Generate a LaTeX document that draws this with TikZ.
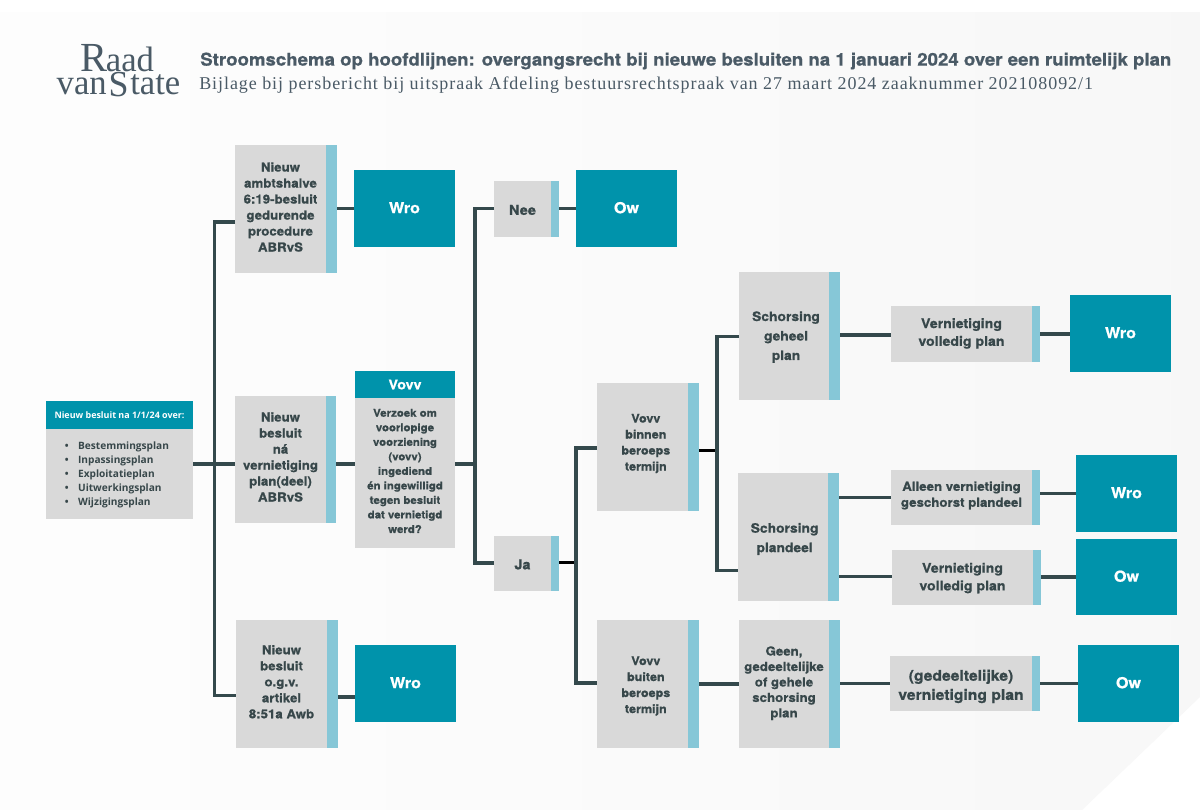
\documentclass[tikz,border=0pt]{standalone}
\usepackage{fontspec}
\setmainfont{Liberation Serif}
\newfontfamily\boxfont[FakeStretch=1.07,FakeBold=0.9]{TeX Gyre Heros}
\newfontfamily\titlefont[FakeStretch=1.07,FakeBold=0.8]{TeX Gyre Heros}
\newfontfamily\listfont{Open Sans}
\newfontfamily\subfont[LetterSpace=5.2]{Liberation Serif}
\newfontfamily\logofont[FakeStretch=0.98]{Liberation Serif}
\usetikzlibrary{calc}
\definecolor{tealc}{HTML}{0093AB}
\definecolor{stripe}{HTML}{86C7D7}
\definecolor{graybox}{HTML}{D9D9D9}
\definecolor{ink}{HTML}{37474A}
\definecolor{wirec}{HTML}{34494C}
\definecolor{titleink}{HTML}{4A5A66}
\tikzset{
  x=0.75pt,y=-0.75pt,
  pbox/.style={fill=graybox,inner sep=0,outer sep=0,anchor=north west},
  ptext/.style={inner sep=0,align=center,font=\boxfont\bfseries\fontsize{9.3}{12}\selectfont,text=ink},
  sbar/.style={fill=stripe,inner sep=0,outer sep=0,anchor=north west},
  outcome/.style={fill=tealc,inner sep=0,outer sep=0,align=center,font=\boxfont\bfseries\fontsize{11.3}{13}\selectfont,text=white,anchor=north west,text height=7pt,text depth=0pt},
  wire/.style={draw=wirec,line width=2.3pt},
  wireb/.style={draw=black,line width=2.3pt},
  fsmall/.style={font=\boxfont\bfseries\fontsize{8.8}{12}\selectfont},
  fgeen/.style={font=\boxfont\bfseries\fontsize{9.3}{11.6}\selectfont},
  fmid/.style={font=\boxfont\bfseries\fontsize{9.9}{13.3}\selectfont},
  flarge/.style={font=\boxfont\bfseries\fontsize{11}{14.4}\selectfont},
  fsch/.style={font=\boxfont\bfseries\fontsize{9.7}{14.6}\selectfont},
  fyn/.style={font=\boxfont\bfseries\fontsize{10.2}{12}\selectfont},
}
% [text style], name, x0, y0, x1 (gray end), x2 (stripe end), y1, text
\newcommand{\stripbox}[8][]{%
  \node[pbox,minimum width=#5*0.75pt-#3*0.75pt,minimum height=#7*0.75pt-#4*0.75pt] (#2) at (#3,#4) {};
  \node[sbar,minimum width=#6*0.75pt-#5*0.75pt,minimum height=#7*0.75pt-#4*0.75pt] (#2s) at (#5,#4) {};
  \node[ptext,#1] (#2t) at (#2.center) {#8};
}
% name, x0,y0,x1,y1,text
\newcommand{\obox}[6]{%
  \node[outcome,minimum width=#4*0.75pt-#2*0.75pt,minimum height=#5*0.75pt-#3*0.75pt] (#1) at (#2,#3) {#6};
}
\newcommand{\bul}[1]{\makebox[10pt][l]{\textbullet}#1}
\begin{document}
\begin{tikzpicture}
\useasboundingbox (0,0) rectangle (1200,810);
% background
\fill[white] (0,0) rectangle (1200,810);
\shade[left color=black!0.6,right color=black!3] (0,12) -- (1200,12) -- (1200,697) -- (1082,810) -- (0,810) -- cycle;

% logo and title
\node[anchor=base,font=\logofont\fontsize{26.5}{32}\selectfont,text=titleink,inner sep=0] (logoa) at (117.5,71.5) {{\fontsize{31}{32}\selectfont R}\kern-1.5pt aad};
\node[anchor=base,font=\logofont\fontsize{26.5}{32}\selectfont,text=titleink,inner sep=0] (logob) at (118.5,94) {van\kern1.5pt\raisebox{-2pt}{\fontsize{27.5}{30}\selectfont S}\kern1.2pt tate};
\node[anchor=west,inner sep=0,text=titleink,font=\titlefont\bfseries\fontsize{13.07}{15}\selectfont] (title) at (200,61) {Stroomschema op hoofdlijnen: overgangsrecht bij nieuwe besluiten na 1 januari 2024 over een ruimtelijk plan};
\node[anchor=west,inner sep=0,text=titleink,font=\subfont\fontsize{13.5}{15}\selectfont] (sub) at (199,85) {Bijlage bij persbericht bij uitspraak Afdeling bestuursrechtspraak van 27 maart 2024 zaaknummer 202108092/1};

% start box
\node[fill=graybox,inner sep=0,outer sep=0,anchor=north west,minimum width=110.25pt,minimum height=67.5pt] (startb) at (46,429) {};
\node[fill=tealc,inner sep=0,outer sep=0,anchor=north west,minimum width=110.25pt,minimum height=21pt,text=white,font=\listfont\bfseries\fontsize{6.7}{8}\selectfont] (starth) at (46,401) {Nieuw besluit na 1/1/24 over:};
\node[anchor=north west,inner sep=0,text=ink,font=\listfont\bfseries\fontsize{7.6}{10.5}\selectfont,align=left] (startl) at (64.5,442) {\bul{Bestemmingsplan}\\\bul{Inpassingsplan}\\\bul{Exploitatieplan}\\\bul{Uitwerkingsplan}\\\bul{Wijzigingsplan}};

% column 1
\stripbox[yshift=1.5pt]{a}{235}{145}{326}{337}{273}{Nieuw\\ambtshalve\\6:19-besluit\\gedurende\\procedure\\ABRvS}
\stripbox[yshift=1.9pt]{b}{235}{396}{326}{336}{523}{Nieuw\\besluit\\ná\\vernietiging\\plan(deel)\\ABRvS}
\stripbox[yshift=1.7pt]{c}{236}{620}{327}{338}{748}{Nieuw\\besluit\\o.g.v.\\artikel\\8:51a Awb}
\obox{wroa}{354}{170}{455}{247}{Wro}
\obox{wroc}{355}{645}{456}{722}{Wro}
% vovv
\node[fill=tealc,inner sep=0,outer sep=0,anchor=north west,minimum width=75pt,minimum height=20.25pt,text=white,font=\boxfont\bfseries\fontsize{10}{12}\selectfont] (vovvh) at (355,371) {Vovv};
\node[pbox,minimum width=75pt,minimum height=112.5pt] (vovv) at (355,398) {};
\node[ptext,yshift=1.5pt,font=\boxfont\bfseries\fontsize{8}{10.9}\selectfont] (vovvt) at (vovv.center) {Verzoek om\\voorlopige\\voorziening\\(vovv)\\ingediend\\én ingewilligd\\tegen besluit\\dat vernietigd\\werd?};
% nee / ja
\stripbox[fyn,yshift=-0.7pt]{nee}{494}{181}{551}{559}{237}{Nee}
\stripbox[fyn,yshift=-0.7pt]{ja}{494}{536}{551}{559}{591}{Ja}
\obox{ow}{576}{170}{677}{247}{Ow}
% column 3
\stripbox[fsmall,xshift=2.5pt,yshift=2.6pt]{bin}{597}{383}{688}{699}{511}{Vovv\\binnen\\beroeps\\termijn}
\stripbox[fsmall,xshift=2.5pt,yshift=-1.5pt]{bui}{597}{620}{688}{699}{748}{Vovv\\buiten\\beroeps\\termijn}
\stripbox[fsch,xshift=1.5pt,yshift=-0.8pt]{geh}{739}{272}{829}{840}{400}{Schorsing\\geheel\\plan}
\stripbox[fsch,xshift=1.2pt,yshift=-1.5pt]{pla}{738}{473}{828}{839}{601}{Schorsing\\plandeel}
\stripbox[fgeen,yshift=0.6pt]{gee}{739}{620}{829}{840}{748}{Geen,\\gedeeltelijke\\of gehele\\schorsing\\plan}
% column 4
\stripbox[fmid,yshift=0.4pt]{v1}{891}{306}{1032}{1040}{362}{Vernietiging\\volledig plan}
\stripbox[yshift=1.5pt]{al}{891}{470}{1032}{1040}{525}{Alleen vernietiging\\geschorst plandeel}
\stripbox[fmid,yshift=-0.4pt]{v2}{892}{550}{1033}{1041}{605}{Vernietiging\\volledig plan}
\stripbox[flarge,yshift=-2.2pt]{ged}{890}{656}{1032}{1040}{711}{(gedeeltelijke)\\vernietiging plan}
\obox{wr1}{1070}{295}{1171}{372}{Wro}
\obox{wr2}{1076}{455}{1177}{532}{Wro}
\obox{ow2}{1076}{539}{1177}{615}{Ow}
\obox{ow3}{1078}{645}{1179}{722}{Ow}

% connectors
\coordinate (ta) at (214.5,222);
\coordinate (tc) at (214.5,695.5);
\coordinate (tb) at (214.5,464);
\coordinate (cr) at (338,697);
\coordinate (ua) at (475,208.5);
\coordinate (ub) at (475,563);
\coordinate (um) at (475,464);
\coordinate (va) at (576,448);
\coordinate (vb) at (576,683);
\coordinate (vm) at (576,562.5);
\coordinate (wa) at (717,336.7);
\coordinate (wb) at (717,570.7);
\coordinate (wm) at (717,450.7);
\coordinate (ga) at (839,335);
\coordinate (pa) at (839,497.3);
\coordinate (pb) at (839,576.7);

\draw[wire,line join=miter] (a.west |- ta) -- (ta) -- (tc) -- (c.west |- tc);
\draw[wire] (startb.east |- tb) -- (b.west |- tb);
\draw[wire] (as.east |- wroa.west) -- (wroa.west);
\draw[wire] (cr) -- (wroc.west |- cr);
\draw[wire] (bs.east |- tb) -- (vovv.west |- tb);
\draw[wire] (vovv.east |- um) -- (um);
\draw[wire] (nee.west |- ua) -- (ua) -- (ub) -- (ja.west |- ub);
\draw[wire] (nees.east |- ow.west) -- (ow.west);
\draw[wireb] (jas.east |- vm) -- (vm);
\draw[wire] (bin.west |- va) -- (va) -- (vb) -- (bui.west |- vb);
\draw[wireb] (bins.east |- wm) -- (wm);
\draw[wire] (geh.west |- wa) -- (wa) -- (wb) -- (pla.west |- wb);
\draw[wire] (buis.east |- gee.west) -- (gee.west);
\draw[wire] (gehs.east |- ga) -- (v1.west |- ga);
\draw[wire] (v1s.east) -- (wr1.west |- v1s.east);
\draw[wire] (plas.east |- pa) -- (al.west |- pa);
\draw[wire] (plas.east |- pb) -- (v2.west |- pb);
\draw[wire] (als.east |- wr2.west) -- (wr2.west);
\draw[wire] (v2s.east |- ow2.west) -- (ow2.west);
\draw[wire] (gees.east |- ged.west) -- (ged.west);
\draw[wire] (geds.east |- ow3.west) -- (ow3.west);
\end{tikzpicture}
\end{document}
